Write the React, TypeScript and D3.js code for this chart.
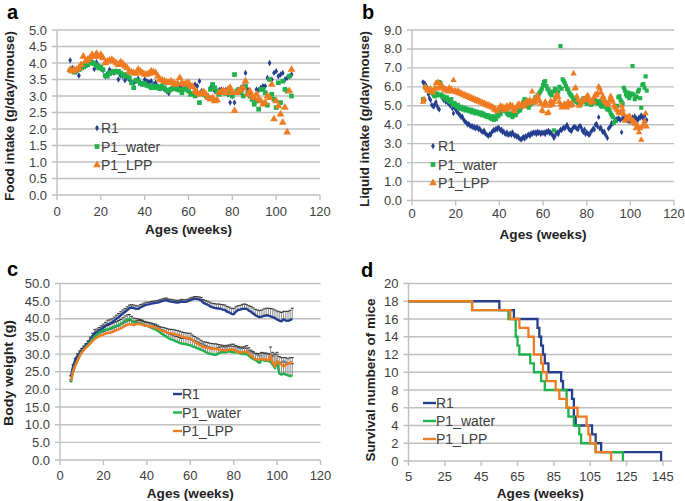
import React from "react";
import * as d3 from "d3";

const font = "'Liberation Sans', Arial, Helvetica, sans-serif";
const blue = "#243f8e";
const green = "#1fb14c";
const orange = "#ef7b22";
const gridColor = "#bfbfbf";
const tickColor = "#404040";

const seriesNames = ["R1", "P1_water", "P1_LPP"];
const seriesColors = [blue, green, orange];

// a: food intake, weekly from week 6
const foodStart = 6;
const foodR1 = [
  4.08, 3.85, 3.8, 3.75, 3.62, 3.85, 3.88, 3.9, 3.95, 4.02,
  4.0, 3.82, 4.02, 3.92, 3.85, 3.78, 3.6, 3.68, 3.8, 3.72,
  3.7, 3.75, 3.5, 3.62, 3.6, 3.48, 3.55, 3.5, 3.42, 3.4,
  3.45, 3.52, 3.4, 3.38, 3.5, 3.45, 3.42, 3.45, 3.35, 3.4,
  3.3, 3.25, 3.32, 3.2, 3.15, 3.08, 3.22, 3.25, 3.3, 3.2,
  3.32, 3.25, 3.35, 3.3, 3.4, 3.32, 3.28, 3.35, 3.3, 3.45,
  3.15, 3.1, 3.05, 3.0, 3.25, 3.3, 3.15, 3.1, 3.18, 3.2,
  3.12, 3.18, 3.05, 2.8, 3.0, 2.8, 3.15, 3.2, 3.25, 3.3,
  3.7, 3.2, 3.1, 2.9, 2.95, 3.2, 3.18, 3.25, 3.3, 3.3,
  3.55, 4.0, 3.5, 3.7, 3.75, 3.6, 3.65, 3.7, 3.5, 3.55,
  3.6, 3.65,
];
const foodWater = [
  3.78, 3.8, 3.72, 3.78, 3.8, 3.85, 3.9, 3.92, 3.95, 4.0,
  4.02, 3.98, 3.92, 3.85, 3.88, 3.8, 3.62, 3.6, 3.68, 3.72,
  3.75, 3.72, 3.75, 3.7, 3.62, 3.65, 3.6, 3.55, 3.4, 3.25,
  3.48, 3.45, 3.38, 3.35, 3.38, 3.32, 3.3, 3.25, 3.3, 3.25,
  3.28, 3.22, 3.3, 3.25, 3.18, 3.15, 3.2, 3.25, 3.22, 3.2,
  3.18, 3.1, 3.22, 3.2, 3.15, 3.05, 3.08, 3.0, 3.05, 2.8,
  3.1, 3.05, 3.0, 2.95, 3.2, 3.35, 3.25, 3.15, 3.05, 3.1,
  3.15, 3.08, 3.1, 3.05, 3.0, 3.65, 3.15, 3.2, 3.1, 3.0,
  3.3, 3.1, 3.0, 2.9, 2.75, 2.85, 2.6, 3.2, 3.2, 3.1,
  2.72, 3.5, 3.05, 2.9, 2.65, 3.4, 2.8, 3.45, 3.2, 3.15,
  3.6, 3.0,
];
const foodLPP = [
  3.8, 3.75, 3.78, 3.8, 3.85, 3.95, 4.2, 4.05, 4.1, 4.15,
  4.25, 4.2, 4.28, 4.2, 4.25, 4.15, 4.0, 4.05, 4.08, 4.1,
  4.05, 4.0, 3.95, 4.02, 3.98, 3.9, 3.85, 3.75, 3.72, 3.7,
  3.68, 3.8, 3.75, 3.7, 3.65, 3.65, 3.68, 3.75, 3.72, 3.7,
  3.6, 3.5, 3.48, 3.45, 3.42, 3.4, 3.45, 3.4, 3.35, 3.38,
  3.55, 3.4, 3.35, 3.38, 3.4, 3.3, 3.28, 3.15, 3.1, 3.05,
  3.08, 3.12, 3.05, 2.95, 2.9, 2.95, 2.85, 2.88, 3.1, 3.12,
  3.15, 3.1, 3.2, 3.25, 3.1, 2.55, 3.1, 3.15, 3.2, 3.25,
  3.45, 3.05, 3.15, 3.0, 2.95, 3.05, 2.9, 2.85, 2.75, 2.8,
  3.0, 2.95, 3.35, 2.3, 2.85, 2.7, 2.45, 2.2, 2.65, 1.9,
  3.15, 3.8,
];

// b: liquid intake, every half week from week 5
const liquidStart = 5;
const liquidStep = 0.5;
const liquidR1 = [
  6.25, 6.2, 6.15, 6.05, 5.9, 5.6, 5.4, 5.3, 5.05, 5.0,
  4.95, 5.1, 5.2, 5.0, 4.85, 4.8, 6.2, 5.5, 5.4, 5.3,
  5.4, 5.2, 5.3, 5.15, 5.1, 5.0, 5.1, 4.85, 4.6, 4.9,
  4.8, 4.7, 4.65, 4.55, 4.5, 4.4, 4.45, 4.3, 4.2, 4.15,
  4.1, 4.0, 4.05, 3.95, 3.9, 3.95, 3.85, 3.9, 3.8, 3.85,
  3.85, 3.75, 3.8, 3.7, 3.65, 3.6, 3.7, 3.55, 3.5, 3.45,
  3.4, 3.5, 3.45, 3.6, 3.65, 3.75, 3.7, 3.8, 3.75, 3.85,
  3.8, 3.7, 3.75, 3.6, 3.65, 3.55, 3.5, 3.6, 3.45, 3.5,
  3.55, 3.45, 3.6, 3.5, 3.4, 3.45, 3.35, 3.4, 3.3, 3.25,
  3.2, 3.3, 3.35, 3.25, 3.4, 3.35, 3.45, 3.5, 3.4, 3.55,
  3.5, 3.6, 3.55, 3.6, 3.5, 3.65, 3.55, 3.6, 3.5, 3.6,
  3.55, 3.6, 3.5, 3.65, 3.6, 3.7, 3.55, 3.6, 3.5, 3.45,
  3.3, 3.4, 3.55, 3.6, 3.5, 3.65, 3.75, 3.7, 3.8, 3.85,
  3.8, 3.9, 4.0, 3.85, 3.75, 3.7, 3.65, 3.8, 3.85, 3.9,
  3.85, 3.8, 3.75, 3.9, 3.95, 3.85, 3.7, 3.6, 3.75, 3.5,
  3.6, 3.55, 3.45, 3.5, 3.65, 3.7, 3.8, 3.75, 4.0, 4.05,
  3.9, 4.4, 3.8, 3.85, 3.7, 3.6, 3.65, 3.5, 3.4, 3.3,
  3.8, 3.85, 3.95, 4.1, 4.05, 4.15, 4.2, 4.3, 4.25, 4.35,
  4.3, 4.25, 3.6, 4.35, 4.4, 4.3, 4.25, 4.35, 4.2, 4.3,
  4.15, 4.25, 4.4, 4.3, 4.45, 4.35, 4.3, 4.25, 4.4, 4.35,
  4.5, 4.4, 4.3, 4.45, 4.2, 4.25,
];
const liquidWater = [
  5.35, 5.3, 6.0, 5.95, 5.85, 5.9, 5.8, 5.75, 5.7, 5.65,
  5.55, 5.5, 5.6, 5.65, 5.55, 6.25, 6.2, 5.6, 5.45, 5.5,
  5.4, 5.35, 5.45, 5.3, 5.25, 5.2, 5.35, 5.1, 5.05, 5.15,
  5.0, 4.95, 5.05, 4.85, 4.9, 4.95, 4.85, 4.8, 4.9, 4.75,
  4.85, 4.8, 4.75, 4.7, 4.8, 4.65, 4.75, 4.7, 4.6, 4.7,
  4.65, 4.6, 4.55, 4.65, 4.5, 4.6, 4.55, 4.45, 4.5, 4.4,
  4.5, 4.4, 4.35, 4.3, 4.45, 4.25, 4.4, 4.3, 4.5, 4.45,
  4.6, 4.55, 4.7, 4.8, 4.75, 4.85, 4.7, 4.6, 4.55, 4.5,
  4.6, 4.5, 4.4, 4.55, 4.6, 4.5, 4.65, 4.7, 4.8, 4.75,
  4.9, 5.0, 5.2, 5.35, 5.3, 5.25, 5.0, 4.9, 5.05, 5.1,
  5.2, 5.15, 5.3, 5.45, 5.4, 5.55, 5.6, 5.7, 5.8, 5.9,
  6.1, 6.25, 6.3, 6.05, 5.9, 5.85, 5.7, 5.6, 5.55, 5.75,
  3.7, 5.9, 5.8, 5.6, 5.75, 6.0, 8.15, 5.9, 6.4, 6.3,
  6.2, 6.05, 5.9, 5.85, 5.7, 5.6, 5.55, 5.45, 5.35, 5.3,
  5.25, 5.2, 5.15, 5.1, 5.05, 5.15, 5.3, 5.4, 5.35, 5.2,
  5.1, 5.25, 5.2, 5.15, 5.05, 5.1, 5.25, 5.2, 5.3, 5.15,
  5.2, 5.1, 5.25, 5.0, 4.95, 5.1, 5.3, 5.0, 4.9, 4.8,
  4.85, 4.75, 4.6, 4.5, 4.4, 4.1, 4.2, 4.9, 5.0, 5.45,
  5.5, 5.3, 5.2, 5.1, 5.95, 5.8, 5.6, 5.5, 5.7, 5.4,
  5.55, 5.65, 7.1, 5.6, 5.35, 5.5, 5.45, 5.75, 5.85, 5.4,
  4.9, 6.1, 6.15, 5.95, 6.55, 5.8,
];
const liquidLPP = [
  5.2, 5.35, 6.0, 5.9, 5.8, 5.85, 5.75, 5.9, 5.8, 5.7,
  5.85, 5.95, 6.2, 5.9, 6.25, 5.95, 6.05, 6.1, 6.0, 5.85,
  5.9, 5.8, 5.85, 5.75, 5.95, 5.85, 5.9, 5.75, 6.35, 5.8,
  5.75, 5.7, 5.8, 5.65, 5.7, 5.6, 5.65, 5.55, 5.6, 5.5,
  5.55, 5.45, 5.5, 5.4, 5.45, 5.35, 5.4, 5.3, 5.35, 5.25,
  5.3, 5.2, 5.25, 5.15, 5.2, 5.1, 5.15, 5.05, 5.1, 5.0,
  5.05, 4.95, 5.0, 4.9, 4.95, 4.8, 4.85, 4.75, 4.7, 4.85,
  4.9, 5.0, 4.85, 4.95, 4.75, 4.9, 4.8, 5.0, 4.85, 4.95,
  5.05, 4.9, 5.0, 4.8, 4.7, 4.85, 4.95, 5.05, 5.1, 4.95,
  5.05, 5.0, 5.1, 4.95, 5.2, 5.15, 5.25, 5.1, 5.3, 5.2,
  5.75, 5.2, 5.3, 5.15, 5.45, 5.55, 5.35, 5.25, 5.1, 4.75,
  4.7, 5.0, 5.2, 5.1, 4.6, 4.65, 5.0, 5.25, 5.15, 5.05,
  5.2, 5.35, 5.5, 5.6, 5.45, 5.2, 5.05, 4.9, 4.95, 5.05,
  5.1, 5.0, 4.9, 5.2, 5.1, 5.0, 5.15, 5.05, 6.7, 5.9,
  5.95, 5.5, 5.3, 5.0, 5.1, 5.2, 5.25, 5.35, 5.3, 5.4,
  5.45, 5.55, 5.35, 5.25, 5.15, 5.3, 5.2, 5.45, 5.6, 5.55,
  5.65, 6.0, 5.9, 5.7, 5.4, 5.5, 5.3, 5.2, 5.15, 5.05,
  5.1, 5.3, 5.5, 5.35, 5.2, 5.0, 4.9, 4.85, 4.75, 4.65,
  4.6, 4.7, 5.0, 4.8, 4.55, 4.2, 4.35, 4.4, 4.3, 4.45,
  4.4, 4.25, 4.15, 4.2, 4.05, 3.8, 4.0, 3.9, 3.6, 3.8,
  3.2, 3.9, 4.0, 4.2, 4.6, 3.9,
];

// c: body weight (mean and upper error), weekly from week 5
const weightStart = 5;
const weightR1 = [
  23.5, 26.5, 28.3, 29.5, 30.3, 31.0, 31.6, 32.3, 33.0, 34.0,
  35.0, 36.0, 36.2, 36.5, 37.0, 37.5, 38.0, 38.5, 38.6, 39.0,
  39.5, 40.0, 40.4, 41.0, 41.5, 42.0, 42.5, 43.0, 43.2, 43.0,
  42.8, 42.8, 43.2, 43.5, 43.8, 44.0, 44.1, 44.3, 44.4, 44.5,
  44.6, 44.8, 45.0, 45.2, 45.3, 45.0, 44.9, 44.8, 44.7, 44.6,
  44.7, 44.9, 44.8, 44.8, 45.0, 45.3, 45.5, 45.7, 45.6, 45.5,
  45.2, 44.6, 44.2, 44.0, 43.6, 43.3, 43.1, 43.0, 42.9, 42.8,
  42.6, 42.5, 42.0, 41.8, 41.4, 41.3, 42.0, 42.5, 42.6, 42.8,
  42.9, 42.8, 42.3, 42.0, 41.5, 41.0, 40.7, 40.5, 40.6, 40.8,
  41.0, 40.9, 40.7, 40.5, 40.2, 39.8, 39.5, 39.3, 39.9, 39.5,
  39.4, 39.6, 40.0,
];
const weightWater = [
  22.0, 25.0, 26.8, 28.0, 29.5, 30.5, 31.3, 32.0, 32.7, 33.5,
  34.3, 35.0, 35.5, 36.0, 36.4, 36.8, 36.9, 37.0, 37.2, 37.5,
  37.8, 38.0, 38.2, 38.5, 39.0, 39.5, 39.8, 40.0, 39.5, 39.0,
  38.9, 38.8, 38.7, 38.5, 38.2, 38.0, 37.8, 37.5, 37.2, 37.0,
  36.6, 36.2, 35.7, 35.3, 34.9, 34.5, 34.2, 34.0, 33.7, 33.5,
  33.2, 33.0, 32.9, 32.8, 32.6, 32.5, 32.2, 32.0, 31.7, 31.5,
  31.2, 31.0, 30.6, 30.3, 30.1, 30.0, 29.8, 29.8, 30.2, 30.5,
  30.6, 30.5, 30.6, 30.8, 30.6, 30.5, 30.6, 30.5, 30.2, 30.0,
  30.1, 30.0, 29.5, 29.0, 28.6, 28.3, 27.9, 27.5, 28.5, 28.2,
  28.1, 28.0, 27.8, 27.0, 26.0, 28.0, 24.5, 24.2, 24.5, 24.2,
  24.0, 23.8, 23.8,
];
const weightLPP = [
  22.5, 25.0, 26.7, 28.0, 29.4, 30.5, 31.2, 31.8, 32.4, 33.0,
  33.7, 34.3, 34.7, 35.0, 35.3, 35.5, 35.8, 36.0, 36.0, 36.2,
  36.5, 36.8, 37.0, 37.3, 37.6, 38.0, 38.3, 38.5, 38.4, 38.2,
  38.4, 38.6, 38.5, 38.3, 38.1, 38.0, 37.9, 37.8, 37.6, 37.5,
  37.2, 36.8, 36.6, 36.4, 36.2, 36.0, 35.9, 35.8, 35.6, 35.5,
  35.2, 35.0, 34.8, 34.6, 34.5, 34.5, 34.0, 33.5, 33.1, 32.8,
  32.4, 32.0, 31.9, 31.8, 31.6, 31.5, 31.5, 31.5, 31.3, 31.2,
  31.1, 31.0, 31.1, 31.2, 31.3, 31.3, 30.9, 30.5, 30.5, 30.5,
  30.6, 30.8, 30.2, 29.5, 29.0, 28.5, 28.5, 28.5, 28.6, 28.5,
  28.4, 28.2, 29.5, 27.5, 26.5, 28.0, 27.5, 27.0, 26.5, 27.0,
  27.2, 27.5, 27.8,
];
const errR1 = [
  0.4, 0.5, 0.5, 0.6, 0.6, 0.6, 0.7, 0.7, 0.8, 0.8,
  0.9, 0.9, 0.9, 1.0, 1.0, 1.0, 1.0, 1.1, 1.1, 1.0,
  1.0, 1.0, 1.1, 1.0, 1.0, 0.9, 0.9, 0.9, 0.8, 0.9,
  0.9, 0.8, 0.8, 0.7, 0.7, 0.7, 0.6, 0.6, 0.6, 0.6,
  0.6, 0.6, 0.6, 0.6, 0.6, 0.6, 0.6, 0.6, 0.6, 0.6,
  0.6, 0.6, 0.6, 0.6, 0.6, 0.6, 0.6, 0.6, 0.7, 0.7,
  0.8, 0.9, 1.0, 1.0, 1.1, 1.1, 1.2, 1.2, 1.3, 1.3,
  1.4, 1.4, 1.5, 1.5, 1.6, 1.6, 1.4, 1.2, 1.2, 1.3,
  1.3, 1.2, 1.4, 1.5, 1.6, 1.7, 1.8, 1.8, 1.9, 2.0,
  2.0, 2.1, 2.2, 2.3, 2.3, 2.4, 2.5, 2.5, 2.2, 2.6,
  2.7, 2.8, 3.0,
];
const errWater = [
  0.3, 0.4, 0.5, 0.5, 0.6, 0.6, 0.7, 0.7, 0.8, 0.8,
  0.9, 0.9, 1.0, 1.0, 1.0, 1.1, 1.1, 1.1, 1.2, 1.2,
  1.2, 1.2, 1.3, 1.3, 1.3, 1.3, 1.3, 1.2, 1.2, 1.2,
  1.2, 1.2, 1.1, 1.1, 1.1, 1.1, 1.1, 1.1, 1.1, 1.1,
  1.2, 1.2, 1.2, 1.3, 1.3, 1.3, 1.4, 1.4, 1.4, 1.5,
  1.5, 1.5, 1.6, 1.6, 1.7, 1.7, 1.7, 1.8, 1.8, 1.8,
  1.8, 1.8, 1.8, 1.8, 1.8, 1.8, 1.8, 1.8, 1.7, 1.6,
  1.5, 1.5, 1.5, 1.5, 1.6, 1.6, 1.6, 1.6, 1.5, 1.6,
  1.6, 1.6, 1.6, 1.7, 1.8, 1.9, 1.9, 2.0, 2.0, 2.0,
  2.0, 2.1, 2.2, 3.5, 4.0, 1.8, 3.0, 3.5, 3.5, 3.5,
  3.5, 3.5, 3.5,
];
const errLPP = [
  0.3, 0.4, 0.5, 0.5, 0.6, 0.6, 0.6, 0.7, 0.7, 0.7,
  0.8, 0.8, 0.8, 0.8, 0.9, 0.9, 0.9, 0.9, 1.0, 1.0,
  1.0, 1.0, 1.0, 1.1, 1.1, 1.1, 1.1, 1.1, 1.0, 1.0,
  1.0, 1.0, 1.0, 1.0, 1.0, 1.0, 1.0, 1.0, 1.0, 1.0,
  1.0, 1.0, 1.0, 1.1, 1.1, 1.1, 1.1, 1.2, 1.2, 1.2,
  1.3, 1.3, 1.3, 1.4, 1.4, 1.4, 1.4, 1.5, 1.5, 1.5,
  1.5, 1.5, 1.5, 1.5, 1.5, 1.5, 1.4, 1.4, 1.4, 1.4,
  1.4, 1.4, 1.4, 1.4, 1.5, 1.5, 1.5, 1.5, 1.5, 1.5,
  1.5, 1.6, 1.6, 1.6, 1.7, 1.7, 1.7, 1.7, 1.8, 1.8,
  1.9, 1.9, 2.5, 2.0, 3.5, 2.5, 1.8, 2.0, 2.5, 2.0,
  1.5, 1.5, 1.2,
];

// d: survival, [week, mice alive from that week on]
const survR1: [number, number][] = [
  [5, 18], [55, 17], [63, 16], [76, 15], [77, 14], [78, 13], [79, 12], [80, 11],
  [82, 10], [89, 9], [90, 8], [95, 7], [96, 5], [97, 4], [106, 3], [108, 2],
  [111, 1], [144, 0],
];
const survWater: [number, number][] = [
  [5, 18], [40, 17], [60, 16], [64, 14], [65, 13], [66, 12], [72, 11], [74, 10],
  [78, 9], [80, 8], [92, 6], [93, 5], [96, 4], [99, 3], [100, 2], [108, 1],
  [123, 0],
];
const survLPP: [number, number][] = [
  [5, 18], [40, 17], [61, 16], [66, 15], [71, 14], [74, 12], [78, 11], [79, 10],
  [81, 9], [86, 8], [88, 7], [92, 6], [98, 5], [103, 4], [104, 3], [105, 2],
  [108, 1], [116.5, 0],
];

const ageTicks = d3.range(0, 121, 20);
const survTicks = d3.range(5, 146, 20);

const symDiamond = (s: number) => d3.symbol().type(d3.symbolDiamond).size(s)() as string;
const symSquare = (s: number) => d3.symbol().type(d3.symbolSquare).size(s)() as string;
const symTriangle = (s: number) => d3.symbol().type(d3.symbolTriangle).size(s)() as string;

type FrameProps = {
  x: d3.ScaleLinear<number, number>;
  y: d3.ScaleLinear<number, number>;
  xTicks: number[];
  yTicks: number[];
  yFmt: (v: number) => string;
  xLabelY: number;
  yTitle: string;
  yTitleX: number;
  yTitleY: number;
  yTitleLen: number;
  xTitleY: number;
  letter: string;
  letterX: number;
  letterY: number;
};

function Frame(p: FrameProps) {
  const [x0, x1] = p.x.range();
  const [yb, yt] = p.y.range();
  return (
    <g fontFamily={font}>
      {p.yTicks.map((t) => (
        <line key={"g" + t} x1={x0 - 5} x2={x1} y1={p.y(t)} y2={p.y(t)} stroke={gridColor} strokeWidth={1.4} />
      ))}
      <line x1={x0} x2={x0} y1={yt} y2={yb} stroke={gridColor} strokeWidth={1.4} />
      {p.xTicks.map((t) => (
        <line key={"t" + t} x1={p.x(t)} x2={p.x(t)} y1={yb} y2={yb + 5} stroke={gridColor} strokeWidth={1.4} />
      ))}
      {p.yTicks.map((t) => (
        <text key={"yl" + t} x={x0 - 10} y={p.y(t) + 4.5} textAnchor="end" fontSize={13} fill={tickColor}>
          {p.yFmt(t)}
        </text>
      ))}
      {p.xTicks.map((t) => (
        <text key={"xl" + t} x={p.x(t)} y={p.xLabelY} textAnchor="middle" fontSize={13} fill={tickColor}>
          {t}
        </text>
      ))}
      <text
        transform={`translate(${p.yTitleX},${p.yTitleY}) rotate(-90)`}
        textAnchor="middle"
        fontSize={13}
        fontWeight="bold"
        fill="#222"
        textLength={p.yTitleLen}
        lengthAdjust="spacingAndGlyphs"
      >
        {p.yTitle}
      </text>
      <text
        x={(x0 + x1) / 2}
        y={p.xTitleY}
        textAnchor="middle"
        fontSize={13.5}
        fontWeight="bold"
        fill="#222"
        textLength={87}
        lengthAdjust="spacingAndGlyphs"
      >
        Ages (weeks)
      </text>
      <text x={p.letterX} y={p.letterY} fontSize={20} fontWeight="bold" fill="#000">
        {p.letter}
      </text>
    </g>
  );
}

function Scatter(props: {
  x: d3.ScaleLinear<number, number>;
  y: d3.ScaleLinear<number, number>;
  values: number[];
  start: number;
  step: number;
  d: string;
  color: string;
}) {
  const { x, y, values, start, step, d, color } = props;
  return (
    <g fill={color}>
      {values.map((v, i) => (
        <path key={i} d={d} transform={`translate(${x(start + i * step)},${y(v)})`} />
      ))}
    </g>
  );
}

function App() {
  // panel a
  const xa = d3.scaleLinear().domain([0, 120]).range([57, 320]);
  const ya = d3.scaleLinear().domain([0, 5]).range([195, 30]);
  // panel b
  const xb = d3.scaleLinear().domain([0, 120]).range([412, 674]);
  const yb = d3.scaleLinear().domain([0, 9]).range([200.5, 30]);
  // panel c
  const xc = d3.scaleLinear().domain([0, 120]).range([60, 320.5]);
  const yc = d3.scaleLinear().domain([0, 50]).range([460, 283.5]);
  // panel d
  const xd = d3.scaleLinear().domain([5, 150]).range([408.5, 672]);
  const yd = d3.scaleLinear().domain([0, 20]).range([461, 283.5]);

  const fmt1 = d3.format(".1f");
  const fmt0 = d3.format("d");

  const markA = [symDiamond(12), symSquare(22), symTriangle(26)];
  const markB = [symDiamond(10), symSquare(17), symTriangle(18)];
  const foodSeries = [foodR1, foodWater, foodLPP];
  const liquidSeries = [liquidR1, liquidWater, liquidLPP];
  const weightSeries = [weightR1, weightWater, weightLPP];
  const errSeries = [errR1, errWater, errLPP];
  const survSeries = [survR1, survWater, survLPP];

  const weightLine = d3
    .line<number>()
    .x((_, i) => xc(weightStart + i))
    .y((v) => yc(v));
  const survLine = d3
    .line<[number, number]>()
    .x((d) => xd(d[0]))
    .y((d) => yd(d[1]))
    .curve(d3.curveStepAfter);

  return (
    <svg width={685} height={501} style={{ position: "absolute", left: 0, top: 0, background: "#fff" }}>
      <rect width={685} height={501} fill="#fff" />

      {/* a */}
      <Frame
        x={xa} y={ya} xTicks={ageTicks} yTicks={d3.range(0, 5.01, 0.5)} yFmt={fmt1}
        xLabelY={216} yTitle="Food intake (g/day/mouse)" yTitleX={14} yTitleY={116} yTitleLen={170}
        xTitleY={234} letter="a" letterX={7} letterY={19}
      />
      {foodSeries.map((vals, k) => (
        <Scatter key={k} x={xa} y={ya} values={vals} start={foodStart} step={1} d={markA[k]} color={seriesColors[k]} />
      ))}
      <g fontFamily={font} fontSize={14} fill={tickColor}>
        {seriesNames.map((n, k) => (
          <g key={n} transform={`translate(97,${128 + k * 18.5})`}>
            <path d={markA[k]} fill={seriesColors[k]} />
            <text x={4} y={5}>{n}</text>
          </g>
        ))}
      </g>

      {/* b */}
      <Frame
        x={xb} y={yb} xTicks={ageTicks} yTicks={d3.range(0, 9.01, 1)} yFmt={fmt1}
        xLabelY={218} yTitle="Liquid intake (g/day/mouse)" yTitleX={369} yTitleY={119} yTitleLen={176}
        xTitleY={239} letter="b" letterX={362} letterY={19}
      />
      {liquidSeries.map((vals, k) => (
        <Scatter key={k} x={xb} y={yb} values={vals} start={liquidStart} step={liquidStep} d={markB[k]} color={seriesColors[k]} />
      ))}
      <g fontFamily={font} fontSize={14} fill={tickColor}>
        {seriesNames.map((n, k) => (
          <g key={n} transform={`translate(433,${146 + k * 18.5})`}>
            <path d={markA[k]} fill={seriesColors[k]} />
            <text x={5} y={5}>{n}</text>
          </g>
        ))}
      </g>

      {/* c */}
      <Frame
        x={xc} y={yc} xTicks={ageTicks} yTicks={d3.range(0, 50.1, 5)} yFmt={fmt1}
        xLabelY={480} yTitle="Body weight (g)" yTitleX={13} yTitleY={373} yTitleLen={106}
        xTitleY={498} letter="c" letterX={7} letterY={276}
      />
      {weightSeries.map((vals, k) => (
        <g key={"e" + k}>
          {vals.map((v, i) => {
            const xx = xc(weightStart + i);
            const top = yc(v + errSeries[k][i]);
            return (
              <g key={i}>
                <line x1={xx} x2={xx} y1={yc(v)} y2={top} stroke="#8c8c8c" strokeWidth={1} />
                <line x1={xx - 1.5} x2={xx + 1.5} y1={top} y2={top} stroke="#333" strokeWidth={1} />
              </g>
            );
          })}
        </g>
      ))}
      {weightSeries.map((vals, k) => (
        <path key={"l" + k} d={weightLine(vals) as string} fill="none" stroke={seriesColors[k]} strokeWidth={2.4} strokeLinejoin="round" />
      ))}
      <g fontFamily={font} fontSize={14} fill={tickColor}>
        {seriesNames.map((n, k) => (
          <g key={n} transform={`translate(173,${394 + k * 18.5})`}>
            <line x1={0} x2={9} y1={0} y2={0} stroke={seriesColors[k]} strokeWidth={2.4} />
            <text x={9} y={5}>{n}</text>
          </g>
        ))}
      </g>

      {/* d */}
      <Frame
        x={xd} y={yd} xTicks={survTicks} yTicks={d3.range(0, 20.1, 2)} yFmt={fmt0}
        xLabelY={481} yTitle="Survival numbers of mice" yTitleX={375} yTitleY={380} yTitleLen={163}
        xTitleY={498} letter="d" letterX={361} letterY={277}
      />
      {survSeries.map((s, k) => (
        <path key={k} d={survLine(s) as string} fill="none" stroke={seriesColors[k]} strokeWidth={2.3} />
      ))}
      <g fontFamily={font} fontSize={14} fill={tickColor}>
        {seriesNames.map((n, k) => (
          <g key={n} transform={`translate(423,${403 + k * 18})`}>
            <line x1={0} x2={13} y1={0} y2={0} stroke={seriesColors[k]} strokeWidth={2.4} />
            <text x={13} y={5}>{n}</text>
          </g>
        ))}
      </g>
    </svg>
  );
}

export default App;
